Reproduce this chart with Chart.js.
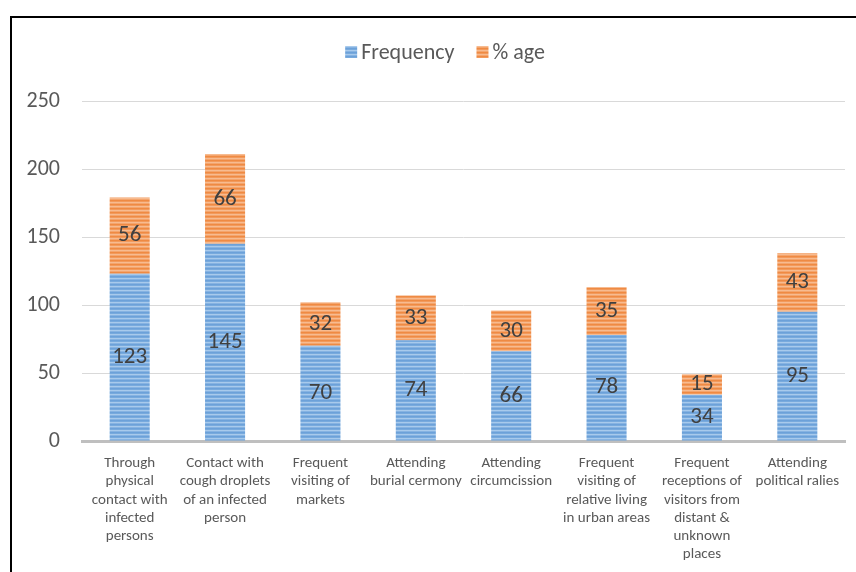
<!DOCTYPE html>
<html>
<head>
<meta charset="utf-8">
<script src="https://cdn.jsdelivr.net/npm/chart.js@4/dist/chart.umd.min.js"></script>
<style>
  html, body { margin: 0; padding: 0; background: #fff; }
  #wrap { position: relative; width: 856px; height: 572px; overflow: hidden; }
  #frame { position: absolute; left: 10px; top: 16px; width: 900px; height: 600px;
           border-left: 2px solid #000; border-top: 2px solid #000; box-sizing: border-box; }
  canvas { position: absolute; left: 0; top: 0; }
</style>
</head>
<body>
<div id="wrap">
  <div id="frame"></div>
  <canvas id="c" width="856" height="572"></canvas>
</div>
<script>
// Routes of exposure
const categories = [
  ["Through", "physical", "contact with", "infected", "persons"],
  ["Contact with", "cough droplets", "of an infected", "person"],
  ["Frequent", "visiting of", "markets"],
  ["Attending", "burial cermony"],
  ["Attending", "circumcission"],
  ["Frequent", "visiting of", "relative living", "in urban areas"],
  ["Frequent", "receptions of", "visitors from", "distant &", "unknown", "places"],
  ["Attending", "political ralies"]
];
const frequency = [123, 145, 70, 74, 66, 78, 34, 95];
const percentAge = [56, 66, 32, 33, 30, 35, 15, 43];
const seriesNames = ["Frequency", "% age"];
const yTicks = [0, 50, 100, 150, 200, 250];

const FONT = "Carlito, Lato, 'Open Sans', sans-serif";

// Horizontally striped fills for the bar segments
function stripes(rows) {
  const p = document.createElement('canvas');
  p.width = 1; p.height = rows.length;
  const g = p.getContext('2d');
  rows.forEach((col, i) => { g.fillStyle = col; g.fillRect(0, i, 1, 1); });
  return g.createPattern(p, 'repeat');
}
const blueFill = stripes(['#6ca1d9', '#78aadd', '#a8caec', '#86b3e2']);
const orangeFill = stripes(['#ef8a43', '#f29a5c', '#f7bb90', '#f4a56d']);

// Value labels centred in each stacked segment
const segmentLabels = {
  id: 'segmentLabels',
  afterDatasetsDraw(chart) {
    const ctx = chart.ctx;
    ctx.save();
    ctx.font = "23px " + FONT;
    ctx.fillStyle = '#404040';
    ctx.textAlign = 'center';
    ctx.textBaseline = 'middle';
    chart.data.datasets.forEach((ds, di) => {
      chart.getDatasetMeta(di).data.forEach((bar, i) => {
        const mid = (bar.y + bar.base) / 2;
        ctx.fillText(String(ds.data[i]), bar.x, mid);
      });
    });
    ctx.restore();
  }
};

// Series key across the top: small square swatch, then the series name
const seriesKey = {
  id: 'seriesKey',
  afterDraw(chart) {
    const ctx = chart.ctx;
    const box = 12, gapText = 4, gapItem = 22, y = 52;
    ctx.save();
    ctx.font = "22px " + FONT;
    ctx.textBaseline = 'middle';
    ctx.textAlign = 'left';
    const items = chart.data.datasets.map(ds => ({
      text: ds.label, fill: ds.backgroundColor, w: ctx.measureText(ds.label).width
    }));
    const total = items.reduce((s, it) => s + box + gapText + it.w, 0) + gapItem * (items.length - 1);
    let x = chart.width / 2 + 17 - total / 2;
    items.forEach(it => {
      ctx.fillStyle = it.fill;
      ctx.fillRect(x, y - box / 2, box, box);
      x += box + gapText;
      ctx.fillStyle = '#595959';
      ctx.fillText(it.text, x, y + 1);
      x += it.w + gapItem;
    });
    ctx.restore();
  }
};

new Chart(document.getElementById('c'), {
  type: 'bar',
  data: {
    labels: categories,
    datasets: [
      { label: seriesNames[0], data: frequency, backgroundColor: blueFill },
      { label: seriesNames[1], data: percentAge, backgroundColor: orangeFill }
    ]
  },
  options: {
    responsive: false,
    animation: false,
    barPercentage: 0.7,
    categoryPercentage: 0.6,
    layout: { padding: { left: 12, right: 11, top: 101, bottom: 0 } },
    plugins: {
      tooltip: { enabled: false },
      legend: { display: false }
    },
    scales: {
      x: {
        stacked: true,
        grid: { display: false },
        border: { color: '#bfbfbf', width: 3 },
        ticks: {
          color: '#595959',
          font: { family: FONT, size: 15, lineHeight: 1.22 },
          maxRotation: 0, autoSkip: false, padding: 5
        },
        afterFit(s) { s.height = 131; }
      },
      y: {
        stacked: true,
        min: 0, max: 250,
        afterBuildTicks(s) { s.ticks = yTicks.map(v => ({ value: v })); },
        grid: { color: '#d9d9d9', drawTicks: false },
        border: { display: false },
        ticks: {
          color: '#595959',
          font: { family: FONT, size: 22 },
          padding: 22
        },
        afterFit(s) { s.width = 70; }
      }
    }
  },
  plugins: [segmentLabels, seriesKey]
});
</script>
</body>
</html>
